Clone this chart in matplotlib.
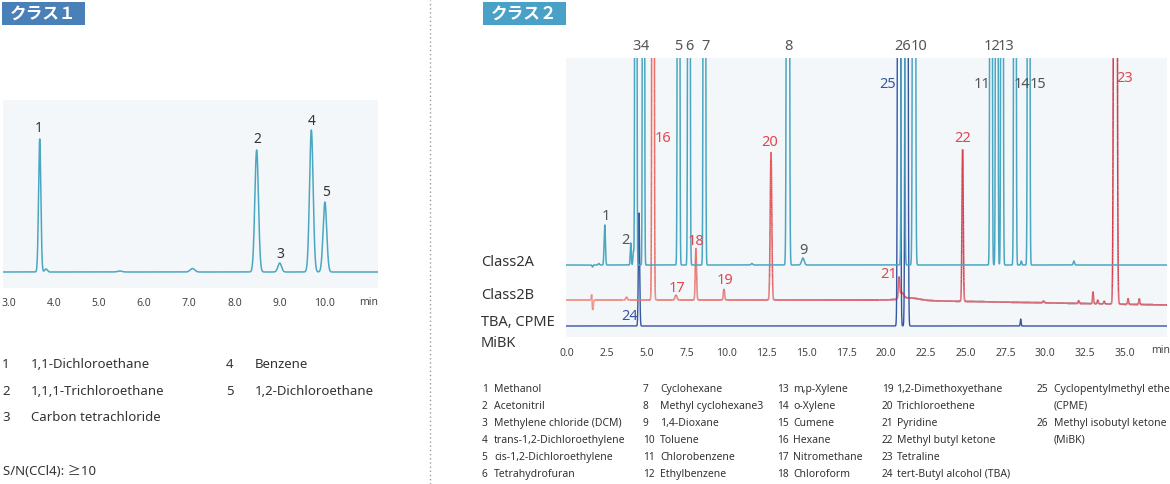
import numpy as np
import matplotlib
matplotlib.use("Agg")
import matplotlib.pyplot as plt
from matplotlib.collections import LineCollection
from matplotlib.colors import LinearSegmentedColormap
from matplotlib.lines import Line2D
from matplotlib.patches import Rectangle

W, H = 1170, 484

# ---------------------
# Class 1 chromatogram (retention time in min, peak height, peak sigma)
c1_times = [3.69, 3.83, 5.46, 7.07, 8.49, 9.00, 9.70, 10.00]
c1_heights = [133, 3, 1, 3.5, 122, 9, 142, 70]
c1_sigmas = [0.025, 0.03, 0.05, 0.05, 0.04, 0.04, 0.04, 0.04]
c1_ticks = [3.0, 4.0, 5.0, 6.0, 7.0, 8.0, 9.0, 10.0]
c1_names = ["1,1-Dichloroethane", "1,1,1-Trichloroethane", "Carbon tetrachloride",
            "Benzene", "1,2-Dichloroethane"]

# ---------------------
# Class 2 chromatograms
a_times = [1.60, 2.00, 2.37, 4.00, 4.17, 4.32, 4.80, 7.00, 7.65, 8.62, 11.6, 13.86, 14.80,
           21.08, 21.77, 26.60, 26.96, 27.29, 28.10, 28.50, 28.96, 31.80]
a_heights = [-2, 1.5, 40, 22, 14, 3000, 3000, 3000, 3000, 3000, 1.5, 3000, 7,
             3000, 3000, 3000, 3000, 3000, 3000, 4, 3000, 4]
a_sigmas = [0.03, 0.04, 0.04, 0.03, 0.03, 0.035, 0.035, 0.04, 0.04, 0.04, 0.05, 0.05, 0.08,
            0.05, 0.05, 0.04, 0.04, 0.04, 0.04, 0.03, 0.04, 0.04]

b_times = [1.55, 1.62, 3.74, 5.40, 6.84, 8.09, 9.85, 12.80, 20.83, 21.00, 21.50, 24.82,
           29.9, 32.1, 33.0, 33.3, 33.7, 34.40, 35.2, 35.9]
b_heights = [6, -10, 3, 3000, 5, 52, 11, 148, 20, 6, 2.5, 152,
             2, 3, 12, 4, 3, 3000, 6, 6]
b_sigmas = [0.02, 0.03, 0.05, 0.04, 0.06, 0.04, 0.04, 0.05, 0.04, 0.12, 0.6, 0.04,
            0.04, 0.03, 0.03, 0.03, 0.03, 0.06, 0.03, 0.03]
b_drift_t = [0.0, 20.0, 37.6]
b_drift = [0.0, 0.0, -5.0]

c_times = [4.52, 20.83, 21.30, 28.46]
c_heights = [113, 3000, 3000, 7]
c_sigmas = [0.04, 0.05, 0.05, 0.025]

c2_ticks = [0.0, 2.5, 5.0, 7.5, 10.0, 12.5, 15.0, 17.5, 20.0, 22.5, 25.0, 27.5,
            30.0, 32.5, 35.0]
c2_names = ["Methanol", "Acetonitril", "Methylene chloride (DCM)",
            "trans-1,2-Dichloroethylene", "cis-1,2-Dichloroethylene", "Tetrahydrofuran",
            "Cyclohexane", "Methyl cyclohexane3", "1,4-Dioxane", "Toluene",
            "Chlorobenzene", "Ethylbenzene", "m,p-Xylene", "o-Xylene", "Cumene",
            "Hexane", "Nitromethane", "Chloroform", "1,2-Dimethoxyethane",
            "Trichloroethene", "Pyridine", "Methyl butyl ketone", "Tetraline",
            "tert-Butyl alcohol (TBA)", "Cyclopentylmethyl ether", "Methyl isobutyl ketone"]

CYAN = "#4ba7c1"
DBLUE = "#3556a3"
RED = "#e0474f"
GRAY = "#555555"
TXT = "#333333"
BG = "#f3f7fa"

plt.rcParams['font.family'] = ['Noto Sans', 'Noto Sans CJK JP', 'DejaVu Sans']


def trace(t, times, heights, sigmas):
    y = np.zeros_like(t)
    for t0, h0, s0 in zip(times, heights, sigmas):
        y += h0 * np.exp(-0.5 * ((t - t0) / s0) ** 2)
    return y


def px_axes(fig, x0, y0, x1, y1):
    return fig.add_axes([x0 / W, 1 - y1 / H, (x1 - x0) / W, (y1 - y0) / H])


def ftxt(fig, x, y, s, **kw):
    kw.setdefault("va", "center")
    kw.setdefault("ha", "center")
    fig.text(x / W, 1 - y / H, s, **kw)


fig = plt.figure(figsize=(W / 100, H / 100), dpi=100)

# headers
for x0, x1, col, s in [(2, 85, "#4a80b8", "クラス１"), (483, 566, "#4aa1c8", "クラス２")]:
    fig.add_artist(Rectangle((x0 / W, 1 - 25 / H), (x1 - x0) / W, 23 / H,
                             transform=fig.transFigure, color=col, lw=0))
    ftxt(fig, (x0 + x1) / 2, 13.5, s, color="white", fontsize=12, weight="bold",
         family=['Noto Sans CJK JP', 'DejaVu Sans'])

fig.add_artist(Line2D([430 / W, 430 / W], [0, 1], transform=fig.transFigure,
                      color="#9a9a9a", lw=1, ls=(0, (1, 2))))

# ---------------------
# Class 1 panel
ax1 = px_axes(fig, 3, 100, 378, 288)
ax1.set_facecolor(BG)
t1 = np.linspace(2.878, 11.175, 6000)
ax1.plot(t1, 16 + trace(t1, c1_times, c1_heights, c1_sigmas), color=CYAN, lw=1.1)
ax1.set_xlim(2.878, 11.175)
ax1.set_ylim(0, 188)
ax1.set_yticks([])
ax1.set_xticks(c1_ticks, [f"{v:.1f}" for v in c1_ticks])
ax1.tick_params(axis="x", length=0, pad=7, labelsize=7.5, labelcolor="#444444")
for s in ax1.spines.values():
    s.set_visible(False)
ftxt(fig, 369, 302.5, "min", fontsize=7.5, color="#444444")

for lab, x, y in [("1", 38.3, 128.3), ("2", 257.3, 140), ("3", 280, 254),
                  ("4", 311.7, 121.7), ("5", 326, 192.7)]:
    ftxt(fig, x, y, lab, fontsize=10, color=TXT)

for i, name in enumerate(c1_names):
    col, row = divmod(i, 3)
    x = 3 + col * 224
    y = 365 + row * 26.3
    ftxt(fig, x + 3, y, str(i + 1), fontsize=9.5, color=TXT, ha="center")
    ftxt(fig, x + 28, y, name, fontsize=9.5, color=TXT, ha="left")
ftxt(fig, 3, 471.5, "S/N(CCl4): ≥10", fontsize=9.5, color=TXT, ha="left")

# ---------------------
# Class 2 panel
x_lo, x_hi = -0.06, 37.64
ax2 = px_axes(fig, 566, 58, 1167, 337)
ax2.set_facecolor(BG)
t2 = np.linspace(x_lo, x_hi, 30000)
ya = 72 + trace(t2, a_times, a_heights, a_sigmas)
yb = 37 + np.interp(t2, b_drift_t, b_drift) + trace(t2, b_times, b_heights, b_sigmas)
yc = 11 + trace(t2, c_times, c_heights, c_sigmas)

ax2.plot(t2, yc, color=DBLUE, lw=1.0)
pts = np.column_stack([t2, yb]).reshape(-1, 1, 2)
segs = np.concatenate([pts[:-1], pts[1:]], axis=1)
red_cmap = LinearSegmentedColormap.from_list("r", ["#f3826e", "#d8404d", "#d23a4a"])
lc = LineCollection(segs, cmap=red_cmap, norm=plt.Normalize(x_lo, x_hi), lw=1.1)
lc.set_array(t2[:-1])
ax2.add_collection(lc)
ax2.plot(t2, ya, color=CYAN, lw=1.1)

ax2.set_xlim(x_lo, x_hi)
ax2.set_ylim(0, 279)
ax2.set_yticks([])
ax2.set_xticks(c2_ticks, [f"{v:.1f}" for v in c2_ticks])
ax2.tick_params(axis="x", length=0, pad=8, labelsize=7.5, labelcolor="#444444")
for s in ax2.spines.values():
    s.set_visible(False)
ftxt(fig, 1161, 350.5, "min", fontsize=7.5, color="#444444")

# trace names
for s, y in [("Class2A", 262.7), ("Class2B", 295.7), ("TBA, CPME", 322.7), ("MiBK", 343.3)]:
    ftxt(fig, 481, y, s, fontsize=10.5, color=TXT, ha="left")

# peak numbers
peak_labels = [
    ("3", 636.5, 46.7, GRAY), ("4", 644.5, 46.7, GRAY), ("5", 678.3, 46.7, GRAY),
    ("6", 689.3, 46.7, GRAY), ("7", 705.3, 46.7, GRAY), ("8", 788.7, 46.7, GRAY),
    ("26", 903, 46.7, GRAY), ("10", 919, 46.7, GRAY), ("12", 992, 46.7, GRAY),
    ("13", 1006.5, 46.7, GRAY),
    ("11", 981.7, 85, GRAY), ("14", 1021.7, 85, GRAY), ("15", 1038.3, 85, GRAY),
    ("25", 887.3, 85, DBLUE), ("23", 1125, 78, RED),
    ("16", 663.3, 139, RED), ("20", 769.3, 142, RED), ("22", 962.7, 139, RED),
    ("1", 605.7, 216.7, GRAY), ("2", 625, 240, GRAY), ("18", 695.7, 241.7, RED),
    ("9", 803.3, 251, GRAY), ("17", 676.7, 288.3, RED), ("19", 725, 280, RED),
    ("24", 629.3, 316.7, DBLUE), ("21", 888.3, 275, RED),
]
for s, x, y, c in peak_labels:
    ftxt(fig, x, y, s, fontsize=10.5, color=c)

# compound list
col_x = [(481.7, 494), (642.7, 660), (776.7, 793.5), (881.7, 896.5), (1036.7, 1054)]
rows_y = [389.3, 406.3, 423.3, 440.3, 457.3, 474.3]
for i, name in enumerate(c2_names):
    col, row = divmod(i, 6)
    nx, tx = col_x[col]
    if col == 4:
        row = 2 * row
    ftxt(fig, nx, rows_y[row], str(i + 1), fontsize=7.3, color=TXT, ha="left")
    ftxt(fig, tx, rows_y[row], name, fontsize=7.5, color=TXT, ha="left")
ftxt(fig, 1054, rows_y[1], "(CPME)", fontsize=7.5, color=TXT, ha="left")
ftxt(fig, 1054, rows_y[3], "(MiBK)", fontsize=7.5, color=TXT, ha="left")

fig.savefig("out.png", dpi=100, facecolor="white")
